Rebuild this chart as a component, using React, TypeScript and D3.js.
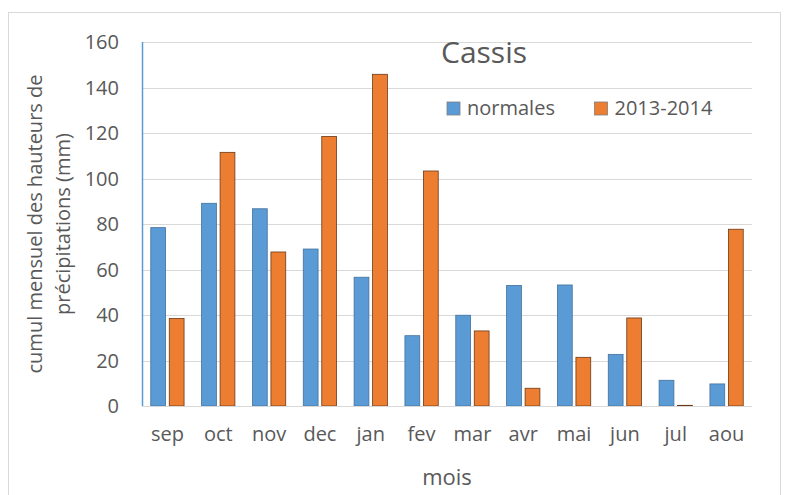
import React from "react";
import * as d3 from "d3";

const months = ["sep", "oct", "nov", "dec", "jan", "fev", "mar", "avr", "mai", "jun", "jul", "aou"];
const normales = [78.4, 89.1, 86.7, 69.0, 56.6, 30.9, 39.9, 53.0, 53.2, 22.7, 11.3, 9.7];
const saison = [38.5, 111.5, 67.7, 118.5, 145.8, 103.3, 33.0, 7.8, 21.4, 38.7, 0.3, 77.7];
const seriesNames = ["normales", "2013-2014"];
const yTicks = [0, 20, 40, 60, 80, 100, 120, 140, 160];

const W = 787;
const H = 495;
const plot = { left: 142, right: 752, top: 42, bottom: 406 };
const font = "'Open Sans', sans-serif";
const textColor = "#595959";
const fills = ["#5B9BD5", "#ED7D31"];
const strokes = ["#41719C", "#6B3A17"];

export default function App() {
  const x0 = d3
    .scaleBand<string>()
    .domain(months)
    .range([plot.left, plot.right])
    .paddingInner(0.345)
    .paddingOuter(0.1725);
  const x1 = d3
    .scaleBand<string>()
    .domain(seriesNames)
    .range([0, x0.bandwidth()])
    .paddingInner(0.2);
  const y = d3.scaleLinear().domain([0, 160]).range([plot.bottom, plot.top]);

  const rows = months.map((m, i) => ({ m, vals: [normales[i], saison[i]] }));

  return (
    <svg
      width={W}
      height={H}
      style={{ position: "absolute", left: 0, top: 0, background: "#fff" }}
      fontFamily={font}
    >
      <rect x={0} y={0} width={W} height={H} fill="#fff" />
      <rect x={8.5} y={12.5} width={772} height={500} fill="#fff" stroke="#d9d9d9" strokeWidth={1} />

      {/* gridlines */}
      {yTicks.slice(1).map((t) => (
        <line
          key={t}
          x1={plot.left}
          x2={plot.right}
          y1={Math.round(y(t)) + 0.5}
          y2={Math.round(y(t)) + 0.5}
          stroke="#d9d9d9"
          strokeWidth={1.2}
        />
      ))}

      {/* y tick labels */}
      {yTicks.map((t) => (
        <text
          key={t}
          x={119}
          y={y(t)}
          dy="0.36em"
          textAnchor="end"
          fontSize={20}
          fill={textColor}
        >
          {t}
        </text>
      ))}

      {/* bars */}
      {rows.map((r) => (
        <g key={r.m} transform={`translate(${x0(r.m)},0)`}>
          {r.vals.map((v, j) => (
            <rect
              key={j}
              x={x1(seriesNames[j])}
              y={y(v)}
              width={x1.bandwidth()}
              height={plot.bottom - y(v)}
              fill={fills[j]}
              stroke={strokes[j]}
              strokeWidth={0.8}
            />
          ))}
        </g>
      ))}

      {/* axes */}
      <line
        x1={plot.left}
        x2={plot.right}
        y1={plot.bottom + 0.5}
        y2={plot.bottom + 0.5}
        stroke="#d9d9d9"
        strokeWidth={1.2}
      />
      <line
        x1={plot.left + 0.5}
        x2={plot.left + 0.5}
        y1={plot.top}
        y2={plot.bottom}
        stroke="#5B9BD5"
        strokeWidth={1.5}
      />

      {/* x tick labels */}
      {months.map((m) => (
        <text
          key={m}
          x={(x0(m) ?? 0) + x0.bandwidth() / 2}
          y={441}
          textAnchor="middle"
          fontSize={20}
          fill={textColor}
        >
          {m}
        </text>
      ))}

      {/* axis titles */}
      <text x={447} y={485} textAnchor="middle" fontSize={22} fill={textColor}>
        mois
      </text>
      <g transform="translate(35,224) rotate(-90)">
        <text x={0} y={0} dy="0.36em" textAnchor="middle" fontSize={20} fill={textColor}>
          cumul mensuel des hauteurs de
        </text>
        <text x={0} y={28} dy="0.36em" textAnchor="middle" fontSize={20} fill={textColor}>
          précipitations (mm)
        </text>
      </g>

      {/* title */}
      <text x={441} y={63} fontSize={30} fill={textColor}>
        Cassis
      </text>

      {/* legend */}
      {seriesNames.map((s, j) => {
        const lx = j === 0 ? 447 : 594.5;
        return (
          <g key={s}>
            <rect
              x={lx}
              y={102}
              width={13}
              height={13}
              fill={fills[j]}
              stroke="#7f7f7f"
              strokeWidth={0.8}
            />
            <text x={lx + 20} y={115} fontSize={20} fill={textColor}>
              {s}
            </text>
          </g>
        );
      })}
    </svg>
  );
}
